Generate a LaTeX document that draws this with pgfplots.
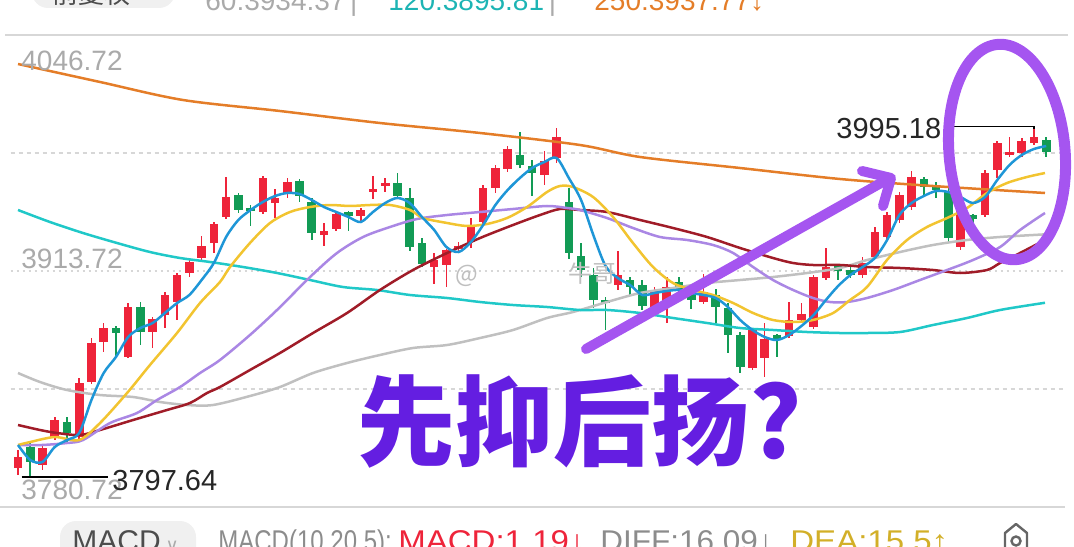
\documentclass[border=0pt]{standalone}
\usepackage{pgfplots}
\pgfplotsset{compat=1.18}
\usepackage{pgfplotstable}
\usepackage{fontspec}
\setmainfont{Liberation Sans}
\newfontfamily\cjk{Noto Sans CJK SC}
\newfontfamily\dejavu{DejaVu Sans}
\definecolor{cr}{RGB}{238,36,58}
\definecolor{cg}{RGB}{18,155,85}
\definecolor{maA}{RGB}{30,150,215}
\definecolor{maB}{RGB}{242,196,48}
\definecolor{maC}{RGB}{170,135,228}
\definecolor{maD}{RGB}{160,28,40}
\definecolor{maE}{RGB}{192,192,192}
\definecolor{maF}{RGB}{32,200,200}
\definecolor{maG}{RGB}{228,125,40}
\definecolor{anno}{RGB}{165,85,240}
\definecolor{annotext}{RGB}{100,30,225}
\definecolor{lbl}{RGB}{170,170,170}
\definecolor{gridc}{RGB}{215,215,215}

\pgfplotstableread{
i o h l c
1 3802.69 3812.84 3798.75 3808.89
3 3804.38 3815.66 3801.57 3813.97
4 3820.16 3831.44 3818.47 3829.74
6 3820.16 3853.41 3819.04 3850.60
7 3851.16 3875.96 3850.03 3873.14
8 3873.70 3884.41 3868.07 3881.59
10 3865.25 3895.68 3864.69 3893.43
12 3879.34 3887.79 3870.32 3886.66
13 3888.92 3901.88 3881.59 3900.19
14 3896.24 3912.59 3886.10 3911.46
15 3912.59 3921.04 3910.33 3918.79
16 3921.04 3933.44 3919.91 3927.80
17 3929.49 3941.33 3923.86 3940.20
18 3944.15 3966.69 3943.02 3955.42
21 3946.97 3967.25 3945.84 3966.13
22 3952.04 3959.93 3943.58 3954.86
23 3957.67 3966.13 3954.86 3963.87
26 3934.00 3940.77 3927.80 3936.26
27 3937.38 3946.97 3936.26 3945.84
29 3944.71 3949.22 3941.33 3948.09
30 3958.24 3967.25 3954.29 3959.93
31 3961.62 3966.13 3958.24 3963.31
35 3915.97 3923.86 3906.39 3919.91
36 3917.10 3926.11 3904.70 3925.55
37 3926.11 3930.06 3923.86 3927.80
38 3930.06 3943.58 3926.68 3939.64
39 3941.33 3962.18 3940.20 3960.49
40 3960.49 3973.45 3957.67 3971.76
41 3971.20 3984.16 3969.51 3982.47
44 3967.82 3981.34 3962.18 3975.71
45 3977.40 3994.30 3974.58 3989.23
50 3905.83 3924.99 3903.01 3911.46
53 3893.43 3904.70 3892.86 3903.01
54 3893.43 3910.33 3884.41 3904.70
57 3896.24 3912.02 3895.12 3901.88
61 3859.05 3881.59 3857.92 3880.47
62 3864.69 3884.41 3853.98 3875.39
64 3877.08 3896.24 3875.96 3886.10
65 3886.10 3895.68 3884.41 3889.48
66 3882.16 3911.46 3881.03 3910.33
67 3909.77 3926.68 3908.64 3915.97
70 3911.46 3921.61 3909.77 3918.22
71 3921.61 3938.51 3920.48 3935.69
72 3932.88 3946.97 3931.19 3945.27
73 3942.46 3958.24 3940.77 3956.55
74 3949.78 3970.07 3948.09 3966.69
78 3927.24 3949.78 3925.55 3948.09
80 3945.27 3970.63 3944.15 3968.94
81 3970.63 3986.98 3966.13 3985.85
82 3979.09 3989.23 3977.96 3980.78
83 3980.22 3988.67 3977.96 3986.98
84 3985.85 3995.18 3984.72 3989.23
}\tabred

\pgfplotstableread{
i o h l c
2 3814.53 3816.78 3797.64 3806.08
5 3828.62 3831.44 3817.35 3822.42
9 3881.59 3882.72 3864.69 3878.77
11 3893.43 3896.24 3872.01 3879.34
19 3956.55 3957.67 3946.40 3948.09
20 3949.22 3950.91 3939.08 3947.53
24 3964.44 3965.56 3952.60 3955.98
25 3952.60 3954.86 3931.19 3935.13
28 3946.97 3947.53 3936.26 3944.71
32 3963.31 3968.94 3954.86 3955.98
33 3954.86 3960.49 3924.99 3927.24
34 3929.49 3932.31 3915.97 3917.66
42 3979.09 3992.05 3971.76 3973.45
43 3972.89 3976.27 3955.98 3968.94
46 3952.60 3960.49 3920.48 3923.86
47 3922.17 3929.49 3910.33 3914.28
48 3911.46 3915.41 3892.86 3897.37
49 3897.37 3899.06 3880.47 3895.68
51 3908.64 3910.33 3899.63 3904.70
52 3905.83 3908.64 3891.74 3893.99
55 3907.52 3910.33 3901.32 3903.01
56 3901.32 3903.57 3892.30 3897.37
58 3900.19 3903.57 3884.41 3893.43
59 3892.86 3895.68 3867.50 3877.65
60 3877.65 3879.34 3856.23 3859.61
63 3877.65 3878.21 3865.25 3874.83
68 3916.53 3917.66 3908.64 3913.72
69 3914.28 3915.97 3909.77 3911.46
75 3965.56 3966.69 3955.42 3961.05
76 3962.18 3963.87 3954.86 3959.36
77 3958.24 3960.49 3930.06 3932.31
79 3945.27 3945.84 3936.82 3943.02
85 3987.54 3989.23 3977.96 3980.78
}\tabgreen

\pgfplotstableread{
i p
1 3815.66
2 3807.20
3 3806.08
4 3814.53
5 3818.47
6 3822.42
7 3841.02
8 3856.23
9 3865.25
10 3876.52
11 3881.59
12 3884.41
13 3890.05
14 3895.68
15 3900.19
16 3908.64
17 3918.22
18 3932.88
19 3942.46
20 3948.09
21 3952.60
22 3955.98
23 3957.67
24 3957.11
25 3953.73
26 3949.78
27 3946.97
28 3944.15
29 3941.33
30 3946.97
31 3952.04
32 3954.86
33 3952.04
34 3944.15
35 3936.82
36 3927.24
37 3924.42
38 3930.06
39 3939.64
40 3950.91
41 3959.36
42 3966.13
43 3971.76
44 3975.14
45 3977.40
46 3966.13
47 3953.73
48 3934.00
49 3916.53
50 3909.77
51 3905.83
52 3900.19
53 3901.32
54 3902.44
55 3903.01
56 3901.32
57 3900.19
58 3898.50
59 3893.43
60 3886.10
61 3880.47
62 3876.52
63 3874.83
64 3877.65
65 3882.72
66 3888.92
67 3897.37
68 3905.26
69 3911.46
70 3915.97
71 3921.04
72 3931.19
73 3945.27
74 3952.04
75 3955.98
76 3958.80
77 3958.24
78 3955.42
79 3952.04
80 3955.42
81 3965.00
82 3973.45
83 3979.09
84 3982.47
85 3984.16
}\tabma

\pgfplotstableread{
i p
1 3815.66
2 3817.35
4.02 3820.16
6 3818.47
7.70 3828.05
9.91 3844.96
11.78 3860.74
13.99 3878.77
15.87 3895.68
17.50 3907.52
18.32 3915.97
19.95 3929.49
21.59 3940.77
23.22 3946.97
24.86 3949.78
26.49 3950.91
28.12 3950.35
29.76 3950.91
31.39 3950.91
33.03 3948.09
34.09 3943.58
36.05 3940.77
37.68 3939.08
39.32 3940.20
40.95 3943.58
42.59 3949.78
44.22 3958.24
45.28 3961.62
46.34 3961.05
47.98 3955.42
49.61 3944.15
51.24 3929.49
52.88 3915.97
54.51 3906.95
56.15 3903.01
57.78 3900.19
59.42 3895.68
61.05 3890.05
62.68 3886.10
64.32 3884.97
65.95 3886.10
67.59 3890.05
68.97 3897.37
70.36 3904.70
71.99 3919.91
73.63 3931.19
75.26 3938.51
76.90 3943.58
78.53 3949.22
80.16 3957.67
81.80 3963.31
83.43 3966.69
84.9 3968.94
}\tabmb

\pgfplotstableread{
i p
1 3815.66
2.96 3815.66
5.0 3816.78
6.31 3818.47
8.52 3828.05
10.72 3833.69
12.36 3841.02
14.24 3848.34
15.87 3856.23
17.50 3863.56
19.95 3877.65
22.16 3891.74
24.86 3910.33
27.06 3923.86
29.19 3932.88
31.39 3938.51
33.60 3943.02
36.05 3945.27
38.75 3946.97
41.44 3948.66
44.22 3950.35
45.85 3949.22
46.91 3948.09
49.12 3943.58
51.24 3937.95
53.45 3932.88
55.66 3931.19
57.78 3928.37
59.42 3923.86
61.05 3915.97
62.68 3908.64
64.32 3903.01
65.95 3898.50
67.34 3896.24
68.73 3896.24
70.36 3898.50
72.49 3903.01
74.69 3908.64
76.90 3914.28
79.02 3919.91
81.23 3927.24
82.86 3936.82
84.9 3946.40
}\tabmc

\pgfplotstableread{
i p
1 3826.93
2.8 3824.11
4.19 3822.42
6.07 3821.29
7.70 3824.11
10.40 3829.74
13.17 3835.38
15.05 3839.33
16.44 3844.96
17.50 3848.34
19.95 3857.92
22.40 3867.50
25.10 3878.77
27.88 3890.05
30.57 3903.01
33.27 3914.28
36.05 3923.86
38.75 3932.31
41.44 3939.64
43.65 3945.27
45.28 3948.66
46.91 3948.09
49.12 3946.97
51.82 3942.46
54.51 3937.95
57.29 3932.88
59.99 3926.68
62.68 3921.04
64.32 3918.22
65.95 3917.10
68.16 3917.10
70.36 3915.97
73.06 3915.41
75.75 3914.28
77.96 3912.59
80.16 3914.28
81.23 3918.22
82.86 3923.86
84.9 3931.19
}\tabmd

\pgfplotstableread{
i p
1 3856.23
2.8 3851.16
5.0 3846.65
7.70 3843.83
10.40 3842.71
12.60 3839.89
14.81 3838.20
16.93 3838.20
19.95 3843.27
22.40 3848.34
25.10 3856.23
27.88 3861.87
30.57 3866.38
33.27 3870.32
36.05 3872.01
38.75 3875.96
41.44 3880.47
44.22 3887.23
46.34 3890.61
49.12 3896.24
51.82 3901.32
54.51 3904.13
57.29 3906.95
59.99 3908.64
62.68 3910.33
65.46 3912.59
68.16 3915.41
70.36 3919.91
73.06 3924.42
75.75 3928.37
78.53 3931.19
81.23 3932.88
84.9 3934.37
}\tabme

\pgfplotstableread{
i p
1 3948.09
3.61 3941.33
6.31 3935.13
9.09 3929.49
11.78 3924.42
14.24 3921.04
16.69 3918.79
19.38 3915.97
22.16 3912.59
24.86 3908.64
27.55 3904.70
30.33 3903.01
33.03 3900.19
36.05 3898.50
38.75 3896.24
41.44 3894.55
44.22 3893.43
46.91 3891.74
49.12 3891.74
51.82 3890.05
54.51 3887.23
57.29 3884.41
59.99 3881.59
62.68 3880.47
65.46 3879.34
68.16 3878.77
70.36 3878.77
73.06 3879.34
75.75 3883.28
78.53 3887.23
81.23 3891.74
84.9 3895.81
}\tabmf

\pgfplotstableread{
i p
1 4030.37
7.70 4020.23
14.48 4010.08
22.40 4003.88
30.57 3997.12
38.75 3991.49
46.91 3984.72
51.82 3977.96
59.99 3971.76
68.16 3965.56
75.75 3961.62
84.9 3957.67
}\tabmg

\pgfplotsset{
  candle/.style 2 args={draw=none, no markers, forget plot,
    error bars/.cd, y dir=both, y explicit, error mark=none,
    error bar style={draw=#1, line width=#2, line cap=butt, solid}},
  mal/.style={smooth, no markers, line width=1.25pt, #1},
}

\begin{document}
\begin{tikzpicture}
\begin{axis}[at={(0,0)}, anchor=south west, scale only axis,
  width=537pt, height=273pt, hide axis,
  xmin=-0.4706, xmax=87.27, ymin=3758.74, ymax=4066.44]
% grid lines
\addplot[gridc, line width=0.9pt, forget plot] coordinates {(-0.05,4046.72) (86.8,4046.72)};
\addplot[gridc, line width=0.9pt, forget plot] coordinates {(-0.5,3780.72) (86.5,3780.72)};
\addplot[gridc, line width=0.6pt, dash pattern=on 2pt off 2pt, forget plot] coordinates {(0.4,3980.22) (86.5,3980.22)};
\addplot[gridc, line width=0.6pt, dash pattern=on 1pt off 2pt, forget plot] coordinates {(0.4,3913.72) (86.5,3913.72)};
\addplot[gridc, line width=0.6pt, dash pattern=on 2pt off 2pt, forget plot] coordinates {(0.4,3847.22) (86.5,3847.22)};
% candles
\addplot[candle={cr}{0.8pt}] table[x=i, y expr={(\thisrow{h}+\thisrow{l})/2}, y error expr={(\thisrow{h}-\thisrow{l})/2}] {\tabred};
\addplot[candle={cr}{4.3pt}] table[x=i, y expr={(\thisrow{o}+\thisrow{c})/2}, y error expr={max(abs(\thisrow{c}-\thisrow{o})/2,0.45)}] {\tabred};
\addplot[candle={cg}{0.8pt}] table[x=i, y expr={(\thisrow{h}+\thisrow{l})/2}, y error expr={(\thisrow{h}-\thisrow{l})/2}] {\tabgreen};
\addplot[candle={cg}{4.3pt}] table[x=i, y expr={(\thisrow{o}+\thisrow{c})/2}, y error expr={max(abs(\thisrow{c}-\thisrow{o})/2,0.45)}] {\tabgreen};
% moving averages
\addplot[mal=maE] table[x=i,y=p] {\tabme};
\addplot[mal=maF] table[x=i,y=p] {\tabmf};
\addplot[mal=maG] table[x=i,y=p] {\tabmg};
\addplot[mal=maD] table[x=i,y=p] {\tabmd};
\addplot[mal=maC] table[x=i,y=p] {\tabmc};
\addplot[mal=maB] table[x=i,y=p] {\tabmb};
\addplot[mal=maA] table[x=i,y=p] {\tabma};
% high / low markers
\addplot[black, line width=0.6pt, forget plot] coordinates {(77.4,3995.18) (84,3995.18) (84,3993.5)};
\addplot[black, line width=0.6pt, forget plot] coordinates {(1.3,3797.64) (8.35,3797.64)};
\end{axis}
\begin{scope}[yshift=273pt, x=0.5pt, y=-0.5pt]
% axis value labels
\node[anchor=base west, inner sep=0, text=lbl, font=\fontsize{14}{16}\selectfont] at (21,71) {4046.72};
\node[anchor=base west, inner sep=0, text=lbl, font=\fontsize{14}{16}\selectfont] at (21,269) {3913.72};
\node[anchor=base west, inner sep=0, text=lbl, font=\fontsize{14}{16}\selectfont] at (21,499) {3780.72};
\node[anchor=base west, inner sep=0, text=black!85, font=\fontsize{14.5}{16}\selectfont] at (836,139) {3995.18};
\node[anchor=base west, inner sep=0, text=black!85, font=\fontsize{14.5}{16}\selectfont] at (112,490) {3797.64};
% header (cut at the top)
\fill[black!6, rounded corners=8pt] (32,-40) rectangle (175,8);
\node[anchor=base west, inner sep=0, text=black!70, font=\cjk\fontsize{13}{15}\selectfont] at (52,4) {前复权};
\node[anchor=base west, inner sep=0, text=lbl, font=\fontsize{14}{16}\selectfont] at (205,11) {60:3934.37\,|};
\node[anchor=base west, inner sep=0, text=maF!90!black, font=\fontsize{14}{16}\selectfont] at (388,11) {120:3895.81\,\textcolor{lbl}{|}};
\node[anchor=base west, inner sep=0, text=maG, font=\fontsize{14}{16}\selectfont] at (594,11) {250:3937.77↓};
% footer (cut at the bottom)
\fill[black!6, rounded corners=8pt] (60,521) rectangle (196,580);
\node[anchor=base west, inner sep=0, text=black!70, font=\fontsize{15}{17}\selectfont] at (72,551) {MACD\,\textcolor{lbl}{\dejavu\fontsize{9}{10}\selectfont ∨}};
\node[anchor=base west, inner sep=0, text=black!45, font=\fontsize{15}{17}\selectfont] at (218,551) {\scalebox{0.8}[1]{MACD(10,20,5):}};
\node[anchor=base west, inner sep=0, text=cr, font=\fontsize{15}{17}\selectfont] at (398,551) {\scalebox{1.1}[1]{MACD:1.19↓}};
\node[anchor=base west, inner sep=0, text=black!45, font=\fontsize{15}{17}\selectfont] at (600,551) {\scalebox{1.05}[1]{DIFF:16.09↓}};
\node[anchor=base west, inner sep=0, text={rgb,255:red,210;green,175;blue,40}, font=\fontsize{15}{17}\selectfont] at (790,551) {\scalebox{1.1}[1]{DEA:15.5↑}};
\draw[black!60, line width=1.2pt, line join=round] (1005,560) -- (1005,533) -- (1016,524) -- (1027,533) -- (1027,560);
\draw[black!60, line width=1.2pt] (1016,541) circle (4.5);
% watermark
\node[anchor=west, inner sep=0, text=black!25, font=\cjk\fontsize{12}{14}\selectfont] at (455,274) {@\hspace{45pt}牛哥};
% annotations
\draw[anno, line width=5.5pt, rotate around={5:(1007,152)}] (1007,152) ellipse [x radius=58, y radius=108];
\draw[anno, line width=5pt, line cap=round] (586,349) -- (888,179);
\draw[anno, line width=5pt, line cap=round, line join=round] (862,171) -- (891,178) -- (883,206);
\node[anchor=center, inner sep=0, text=annotext, font=\cjk\bfseries\fontsize{49}{52}\selectfont] at (580,422) {先抑后扬?};
\pgfresetboundingbox
\path[use as bounding box] (0,0) rectangle (1074,546);
\end{scope}
\end{tikzpicture}
\end{document}
